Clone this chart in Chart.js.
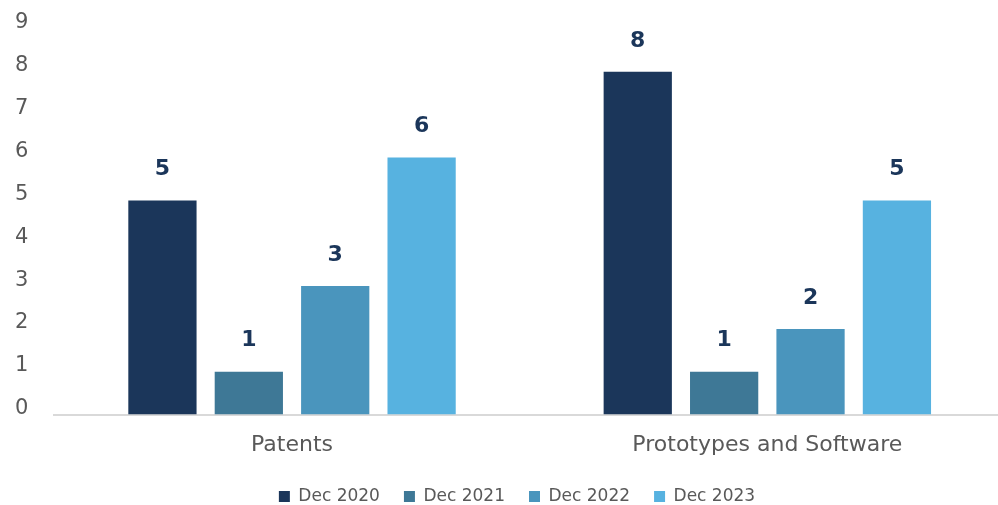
<!DOCTYPE html>
<html>
<head>
<meta charset="utf-8">
<script src="https://cdn.jsdelivr.net/npm/chart.js@4.4.1/dist/chart.umd.min.js"></script>
<style>
  html, body { margin: 0; padding: 0; background: #fff; overflow: hidden; }
  /* plot runs a few pixels past the right edge in the original */
  #wrap { width: 1005px; height: 505px; }
</style>
</head>
<body>
<div id="wrap"><canvas id="chart"></canvas></div>
<script>
// chart data
const categories = ['Patents', 'Prototypes and Software'];
const seriesNames = ['Dec 2020', 'Dec 2021', 'Dec 2022', 'Dec 2023'];
const dec2020 = [5, 8];
const dec2021 = [1, 1];
const dec2022 = [3, 2];
const dec2023 = [6, 5];
const seriesValues = [dec2020, dec2021, dec2022, dec2023];
const seriesColors = ['#1b365a', '#3e7896', '#4a95bd', '#57b2e0'];

const fontFamily = '"DejaVu Sans", sans-serif';

// draws the bold value above each bar
const valueLabels = {
    id: 'valueLabels',
    afterDatasetsDraw(chart) {
        const ctx = chart.ctx;
        ctx.save();
        ctx.font = 'bold 22px ' + fontFamily;
        ctx.fillStyle = '#1b365a';
        ctx.textAlign = 'center';
        ctx.textBaseline = 'middle';
        chart.data.datasets.forEach((ds, i) => {
            chart.getDatasetMeta(i).data.forEach((bar, j) => {
                ctx.fillText(ds.data[j], bar.x, bar.y - 31);
            });
        });
        ctx.restore();
    }
};

// legend sits a little right of the canvas centre in the original
const legendShift = {
    id: 'legendShift',
    afterLayout(chart) {
        chart.legend.left += 7;
        chart.legend.right += 7;
    }
};

new Chart(document.getElementById('chart'), {
    type: 'bar',
    data: {
        labels: categories,
        datasets: seriesNames.map((name, i) => ({
            label: name,
            data: seriesValues[i],
            backgroundColor: seriesColors[i],
            barPercentage: 0.79,
            categoryPercentage: 0.727
        }))
    },
    options: {
        responsive: true,
        maintainAspectRatio: false,
        animation: false,
        layout: { padding: { top: 29, right: 0, left: 15, bottom: -10 } },
        scales: {
            x: {
                grid: { display: false, drawTicks: false },
                border: { display: true, color: '#d9d9d9', width: 2 },
                ticks: {
                    color: '#595959',
                    font: { family: fontFamily, size: 22 },
                    padding: 17
                },
                afterFit(scale) { scale.height -= 11; }
            },
            y: {
                min: 0,
                max: 9,
                grid: { display: false, drawTicks: false },
                border: { display: false },
                ticks: {
                    stepSize: 1,
                    color: '#595959',
                    font: { family: fontFamily, size: 21 },
                    padding: 0,
                    crossAlign: 'far',
                    labelOffset: -6
                },
                // gap between tick labels and plot, without the extra top padding
                afterFit(scale) { scale.width += 26; }
            }
        },
        plugins: {
            legend: {
                position: 'bottom',
                labels: {
                    boxWidth: 11,
                    boxHeight: 11,
                    padding: 24,
                    color: '#595959',
                    font: { family: fontFamily, size: 17 }
                }
            },
            tooltip: { enabled: false }
        }
    },
    plugins: [valueLabels, legendShift]
});
</script>
</body>
</html>
